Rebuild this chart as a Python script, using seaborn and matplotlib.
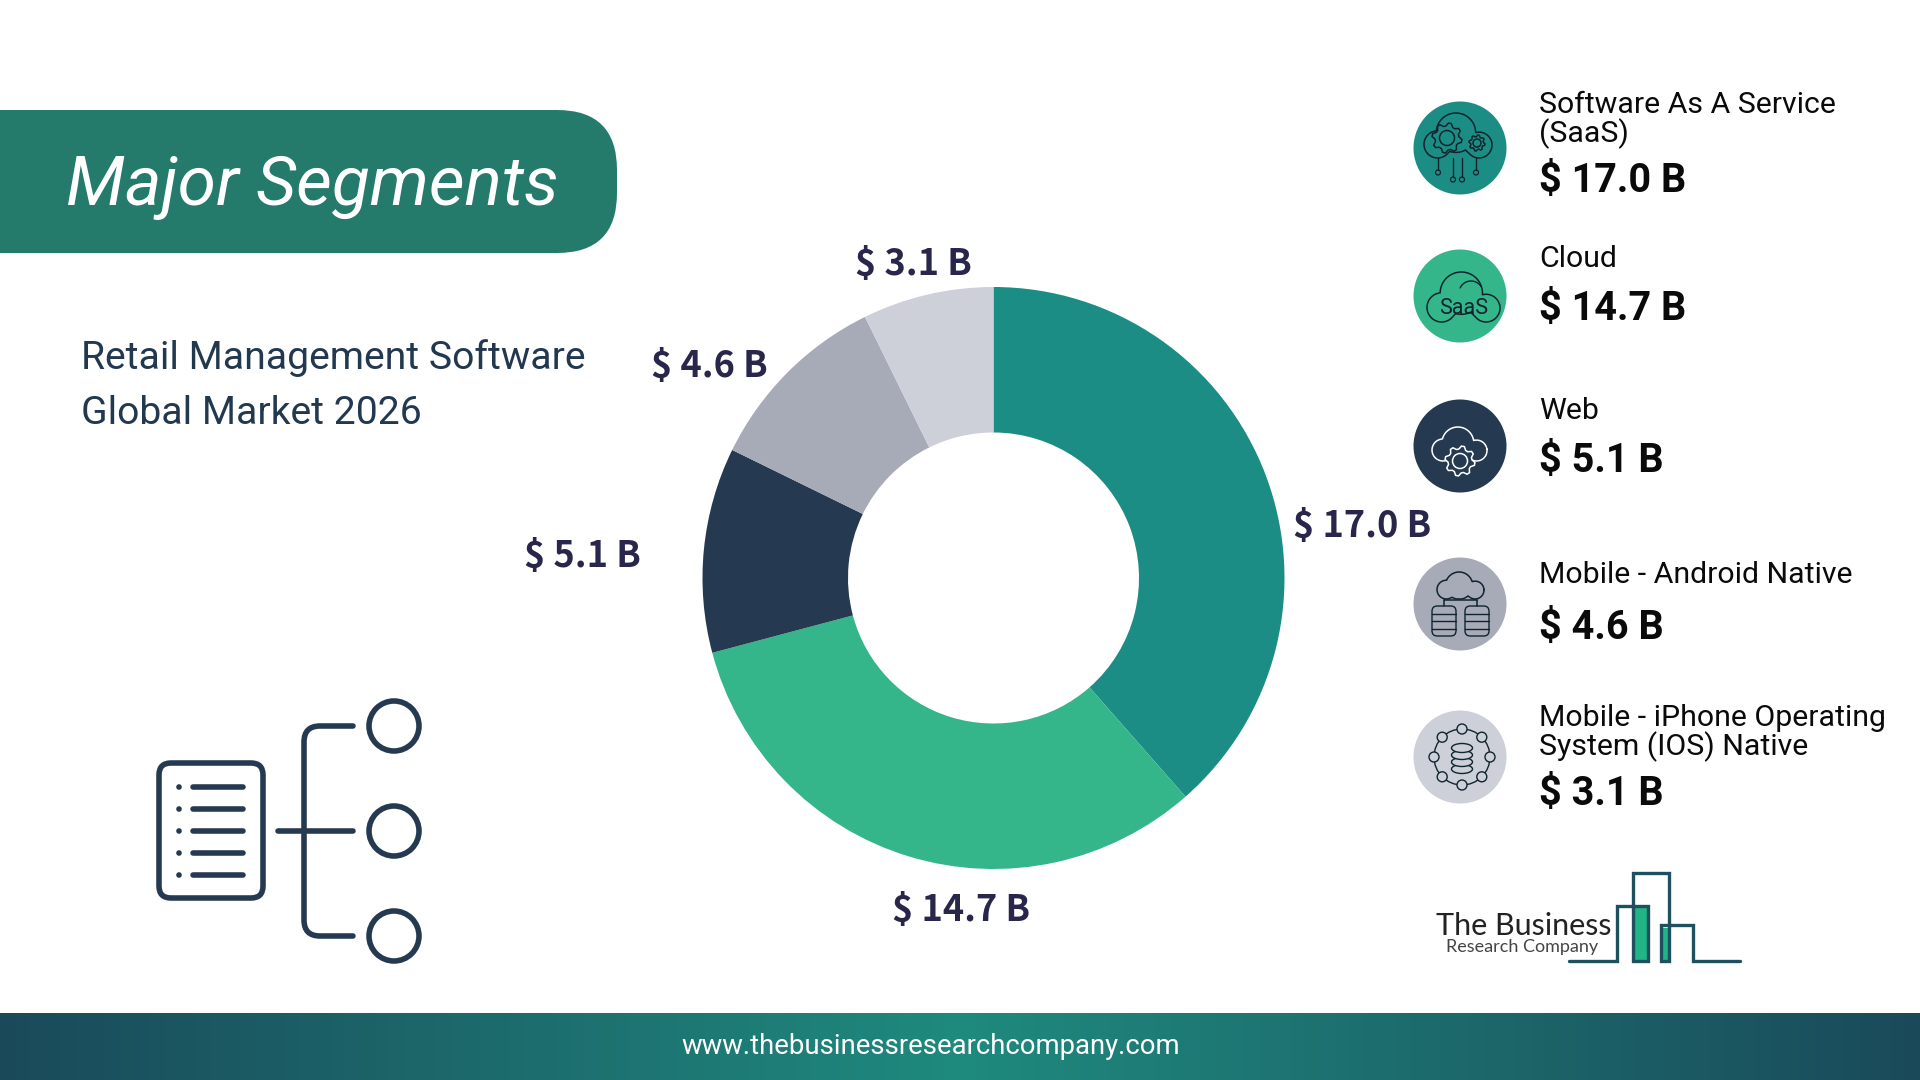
"""Major segments donut for the retail management software market."""
import matplotlib
matplotlib.use("Agg")
import matplotlib.pyplot as plt
import numpy as np
import seaborn as sns
from matplotlib.colors import LinearSegmentedColormap
from matplotlib.patches import Circle, Ellipse, FancyBboxPatch, PathPatch
from matplotlib.path import Path

# ── Data ──────────────────────────────────────────────
segments = ["Software As A Service\n(SaaS)", "Cloud", "Web", "Mobile - Android Native",
            "Mobile - iPhone Operating\nSystem (IOS) Native"]
value_labels = ["$ 17.0 B", "$ 14.7 B", "$ 5.1 B", "$ 4.6 B", "$ 3.1 B"]
# slices; they sit a little off the printed figures
slice_sizes = [17.15, 14.39, 5.07, 4.66, 3.24]
colors = ["#1c8d85", "#34b68a", "#253a50", "#a7abb7", "#cdd0d9"]

title = "Major Segments"
subtitle = "Retail Management Software\nGlobal Market 2026"
footer = "www.thebusinessresearchcompany.com"

# ── Style ─────────────────────────────────────────────
_INK = "#253a50"
_LABEL = "#28264a"
_DARK = "#10242e"
_W, _H = 1920, 1080

sns.set_theme(style="white")
plt.rcParams["font.family"] = ["Roboto", "DejaVu Sans"]
palette = sns.color_palette(colors)

fig = plt.figure(figsize=(19.2, 10.8), dpi=100, facecolor="white")

# donut, in its own axes so the library does the angles
cx, cy, r = 993.5, 578, 291
pie_ax = fig.add_axes([(cx - r) / _W, 1 - (cy + r) / _H, 2 * r / _W, 2 * r / _H])
pie_ax.pie(slice_sizes, colors=palette, startangle=90, counterclock=False, radius=1,
           wedgeprops=dict(width=0.5, edgecolor="none"))
pie_ax.set_xlim(-1, 1)
pie_ax.set_ylim(-1, 1)
pie_ax.axis("off")

# everything else sits on a full-figure axes in pixel coordinates
ax = fig.add_axes([0, 0, 1, 1], facecolor="none")
ax.set_xlim(0, _W)
ax.set_ylim(_H, 0)
ax.axis("off")


def line(xs, ys, color=_INK, lw=1.0, z=6):
    ax.plot(xs, ys, color=color, lw=lw, solid_capstyle="round",
            solid_joinstyle="round", zorder=z)


def ring(x, y, rad, color=_INK, lw=1.0, fill="none", z=6):
    ax.add_patch(Circle((x, y), rad, fc=fill, ec=color, lw=lw, zorder=z))


def cloud(x0, x1, y0, y1, color=_DARK, lw=1.1):
    """Cloud outline inside a box: three lobes cut off by a flat base."""
    w = x1 - x0
    h = (y1 - y0) / w
    t = np.linspace(0, 2 * np.pi, 721)
    dx, dy = np.cos(t), np.sin(t)
    ox, oy = 0.5, h * 0.65
    far = np.zeros_like(t)
    for lx, ly, lr in [(0.2, h - 0.2, 0.2), (0.47, 0.29, 0.29), (0.81, h - 0.19, 0.19)]:
        b = dx * (ox - lx) + dy * (oy - ly)
        disc = b ** 2 - ((ox - lx) ** 2 + (oy - ly) ** 2 - lr ** 2)
        hit = np.where(disc > 0, -b + np.sqrt(np.maximum(disc, 0)), 0)
        far = np.maximum(far, hit)
    down = dy > 1e-6
    far[down] = np.minimum(far[down], (h - oy) / dy[down])
    ax.plot(x0 + (ox + far * dx) * w, y0 + (oy + far * dy) * w, color=color, lw=lw, zorder=6)


def gear(x, y, rad, color=_DARK, lw=1.1, fill="none", teeth=8):
    t = np.linspace(0, 2 * np.pi, teeth * 4, endpoint=False) + np.pi / (teeth * 4)
    rr = np.where(np.arange(teeth * 4) % 4 < 2, rad, rad * 0.8)
    ax.fill(x + rr * np.cos(t), y + rr * np.sin(t), fc=fill, ec=color, lw=lw, zorder=7)
    ring(x, y, rad * 0.5, color, lw, z=7)


def db_stack(x, y0, y1, w, rows, color=_DARK, lw=1.0):
    ax.add_patch(FancyBboxPatch((x - w / 2, y0), w, y1 - y0,
                                boxstyle=f"round,pad=0,rounding_size={w * 0.22}",
                                fc="none", ec=color, lw=lw, zorder=6))
    for yy in np.linspace(y0, y1, rows + 1)[1:-1]:
        line([x - w / 2, x + w / 2], [yy, yy], color, lw)


# ── Banner and heading ────────────────────────────────
ax.add_patch(FancyBboxPatch((-80, 110), 697, 143, boxstyle="round,pad=0,rounding_size=60",
                            fc="#247a6b", ec="none", zorder=2))
ax.text(66, 187, title, color="white", fontsize=50, style="italic",
        ha="left", va="center", zorder=3)
ax.text(81, 386, subtitle, color="#22384f", fontsize=28.2, ha="left", va="center",
        linespacing=1.62, zorder=3)

# ── Footer ────────────────────────────────────────────
band = LinearSegmentedColormap.from_list("band", ["#1a4a5a", "#1f8a7e", "#1a4a5a"])
ax.imshow(np.linspace(0, 1, 512)[None, :], cmap=band, extent=(0, _W, _H, 1013),
          aspect="auto", zorder=1)
ax.set_xlim(0, _W)
ax.set_ylim(_H, 0)
ax.text(931, 1046, footer, color="white", fontsize=19.8, ha="center", va="center", zorder=3)

# ── Value labels round the donut ──────────────────────
label_pos = [(1362, 527), (961, 911), (582, 557), (709, 367), (913, 264)]
for text, (lx, ly) in zip(value_labels, label_pos):
    ax.text(lx, ly, text, color=_LABEL, fontsize=26, fontweight="bold", family="Noto Sans CJK JP",
            ha="center", va="center", zorder=3)

# ── Legend column ─────────────────────────────────────
icon_y = [148, 296, 446, 604, 757]
name_y = [120, 259, 411, 575, 733]
value_y = [181, 309, 461, 628, 794]
for name, text, col, iy, ny, vy in zip(segments, value_labels, palette, icon_y, name_y, value_y):
    ax.add_patch(Circle((1460, iy), 46.5, fc=col, ec="none", zorder=3))
    ax.text(1539, ny, name, color="#0a0a0a", fontsize=21.8, ha="left",
            va="center", linespacing=0.96, zorder=3)
    ax.text(1539, vy, text, color="#0a0a0a", fontsize=28.5, fontweight="bold",
            ha="left", va="center", zorder=3)

# software as a service: cloud, two gears, circuit traces
cloud(1424, 1492, 113, 158)
gear(1447, 138, 15)
gear(1477, 143, 8)
for x, bottom in zip([1438, 1453, 1462, 1476], [170, 177, 177, 170]):
    line([x, x], [158, bottom], _DARK, 1.0)
    ring(x, bottom + 2.5, 2.5, _DARK, 0.9)

# cloud: outline round the word
cloud(1427, 1500, 272, 322)
arc = np.radians(np.linspace(205, 330, 30))
line(1471 + 12 * np.cos(arc), 293 + 12 * np.sin(arc), _DARK, 1.0)
ax.text(1464, 309, "SaaS", color=_DARK, fontsize=15.5, ha="center", va="center", zorder=6)

# web: white cloud over a gear
cloud(1432, 1487, 427, 461, "white")
gear(1460, 461, 15, "white", fill=colors[2])

# android: cloud feeding two databases
cloud(1437, 1484, 572, 599)
line([1444, 1477], [600, 600], _DARK, 1.1)
line([1444, 1444], [600, 606], _DARK, 1.1)
line([1477, 1477], [600, 606], _DARK, 1.1)
db_stack(1444, 606, 636, 24, 4)
db_stack(1477, 606, 636, 24, 4)

# iphone: database inside a ring of nodes
ring(1462, 757, 28, _DARK, 1.0)
for a in np.arange(0, 360, 45):
    ax.add_patch(Circle((1462 + 28 * np.cos(np.radians(a)), 757 + 28 * np.sin(np.radians(a))),
                        5, fc=colors[4], ec=_DARK, lw=1.0, zorder=7))
for yy in [769, 762, 755, 748]:
    ax.add_patch(Ellipse((1462, yy), 21, 9, fc=colors[4], ec=_DARK, lw=1.0, zorder=7))

# ── Left hierarchy icon ───────────────────────────────
ax.add_patch(FancyBboxPatch((159, 763), 104, 135, boxstyle="round,pad=0,rounding_size=12",
                            fc="none", ec=_INK, lw=4, zorder=4))
for yy in [787, 809, 831, 853, 875]:
    ring(179, yy, 2.8, _INK, 0, _INK)
    line([193, 243], [yy, yy], _INK, 4)
line([278, 353], [831, 831], _INK, 4)
bracket = Path([(353, 726), (320, 726), (304, 726), (304, 742), (304, 920), (304, 936), (320, 936), (353, 936)],
               [Path.MOVETO, Path.LINETO, Path.CURVE3, Path.CURVE3, Path.LINETO, Path.CURVE3, Path.CURVE3, Path.LINETO])
ax.add_patch(PathPatch(bracket, fc="none", ec=_INK, lw=4, capstyle="round", zorder=4))
for yy in [726, 831, 936]:
    ring(394, yy, 25, _INK, 4)

# ── Company mark ──────────────────────────────────────
teal = "#1f5060"
ax.fill_between([1634, 1647], 908, 961, color="#1fb585", lw=0, zorder=4)
ax.fill_between([1663, 1668], 928, 961, color="#1fb585", lw=0, zorder=4)
ax.plot([1569, 1617, 1617, 1648, 1648, 1633, 1633, 1669, 1669, 1661, 1661, 1693, 1693, 1740],
        [961, 961, 906, 906, 961, 961, 873, 873, 961, 961, 925, 925, 961, 961],
        color=teal, lw=2.4, solid_joinstyle="miter", zorder=5)
ax.text(1436, 926, "The Business", color="#222222", fontsize=22, family="Lato",
        ha="left", va="center", zorder=5)
ax.text(1446, 947, "Research Company", color="#444444", fontsize=13, family="Lato",
        ha="left", va="center", zorder=5)

fig.savefig("out.png", dpi=100, facecolor="white")
plt.close(fig)
